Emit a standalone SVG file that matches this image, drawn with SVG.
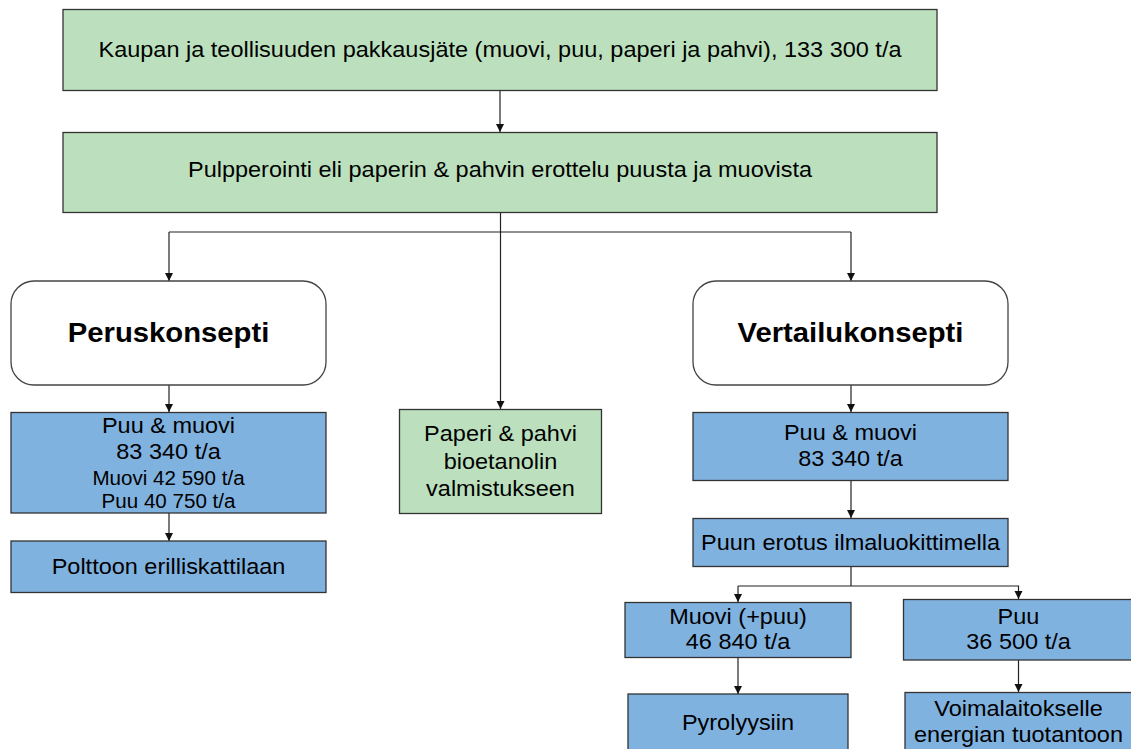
<svg xmlns="http://www.w3.org/2000/svg" width="1131" height="749" viewBox="0 0 1131 749">
  <style>
    .green { fill: #bce0bd; stroke: #333333; stroke-width: 1.3; }
    .blue { fill: #80b2e0; stroke: #333333; stroke-width: 1.3; }
    .concept { fill: #ffffff; stroke: #444444; stroke-width: 1.3; }
    text { font-family: "Liberation Sans", Arial, sans-serif; fill: #000000; text-anchor: middle; }
    .t { font-size: 22px; }
    .s { font-size: 19.5px; }
    .b { font-size: 28px; font-weight: bold; }
    .wire { fill: none; stroke: #222222; stroke-width: 1.2; }
  </style>
  <defs>
    <marker id="arrow" markerUnits="userSpaceOnUse" markerWidth="10" markerHeight="10" refX="8" refY="4" orient="auto">
      <path d="M0,0 L8,4 L0,8 Z" fill="#111111"/>
    </marker>
  </defs>

  <rect width="1131" height="749" fill="#ffffff"/>

  <!-- connectors -->
  <g id="connectors" class="wire">
    <line x1="500" y1="91" x2="500" y2="132" marker-end="url(#arrow)"/>
    <line x1="500.5" y1="212" x2="500.5" y2="409" marker-end="url(#arrow)"/>
    <polyline points="169,232 851,232"/>
    <line x1="169" y1="232" x2="169" y2="281" marker-end="url(#arrow)"/>
    <line x1="851" y1="232" x2="851" y2="281" marker-end="url(#arrow)"/>
    <line x1="169" y1="385" x2="169" y2="412" marker-end="url(#arrow)"/>
    <line x1="169" y1="513" x2="169" y2="541" marker-end="url(#arrow)"/>
    <line x1="851" y1="385" x2="851" y2="412" marker-end="url(#arrow)"/>
    <line x1="851" y1="481" x2="851" y2="518" marker-end="url(#arrow)"/>
    <line x1="851" y1="567" x2="851" y2="586"/>
    <polyline points="738,586 1018.5,586 1018.5,599" marker-end="url(#arrow)"/>
    <line x1="738" y1="586" x2="738" y2="602" marker-end="url(#arrow)"/>
    <line x1="738" y1="657" x2="738" y2="694" marker-end="url(#arrow)"/>
    <line x1="1018.5" y1="660" x2="1018.5" y2="692" marker-end="url(#arrow)"/>
  </g>

  <!-- source waste stream -->
  <g id="node-waste">
    <rect class="green" x="63" y="9.5" width="874" height="81"/>
    <text class="t" transform="translate(500 57) scale(1.068 1)">Kaupan ja teollisuuden pakkausjäte (muovi, puu, paperi ja pahvi), 133 300 t/a</text>
  </g>

  <g id="node-pulping">
    <rect class="green" x="63" y="132.5" width="874" height="80"/>
    <text class="t" transform="translate(500 177) scale(1.068 1)">Pulpperointi eli paperin &amp; pahvin erottelu puusta ja muovista</text>
  </g>

  <g id="node-base-concept">
    <rect class="concept" x="11" y="281" width="315" height="104" rx="23" ry="23"/>
    <text class="b" transform="translate(168.5 342) scale(1.045 1)">Peruskonsepti</text>
  </g>

  <g id="node-comparison-concept">
    <rect class="concept" x="693" y="281" width="315" height="104" rx="23" ry="23"/>
    <text class="b" transform="translate(850.5 342) scale(1.045 1)">Vertailukonsepti</text>
  </g>

  <g id="node-base-wood-plastic">
    <rect class="blue" x="11" y="412.5" width="315" height="100.5"/>
    <text class="t" transform="translate(168.5 433) scale(1.068 1)">Puu &amp; muovi</text>
    <text class="t" transform="translate(168.5 459) scale(1.068 1)">83 340 t/a</text>
    <text class="s" transform="translate(168.5 484.5) scale(1.056 1)">Muovi 42 590 t/a</text>
    <text class="s" transform="translate(168.5 507.5) scale(1.056 1)">Puu 40 750 t/a</text>
  </g>

  <g id="node-base-boiler">
    <rect class="blue" x="11" y="541" width="315" height="51.5"/>
    <text class="t" transform="translate(168.5 573.5) scale(1.068 1)">Polttoon erilliskattilaan</text>
  </g>

  <g id="node-paper">
    <rect class="green" x="399.5" y="409.5" width="202" height="104"/>
    <text class="t" transform="translate(500.5 440.5) scale(1.068 1)">Paperi &amp; pahvi</text>
    <text class="t" transform="translate(500.5 468.5) scale(1.068 1)">bioetanolin</text>
    <text class="t" transform="translate(500.5 496) scale(1.068 1)">valmistukseen</text>
  </g>

  <g id="node-comp-wood-plastic">
    <rect class="blue" x="693" y="412.5" width="315" height="68"/>
    <text class="t" transform="translate(850.5 439.5) scale(1.068 1)">Puu &amp; muovi</text>
    <text class="t" transform="translate(850.5 466) scale(1.068 1)">83 340 t/a</text>
  </g>

  <g id="node-air-classifier">
    <rect class="blue" x="693" y="518.5" width="315" height="48"/>
    <text class="t" transform="translate(850.5 549.5) scale(1.068 1)">Puun erotus ilmaluokittimella</text>
  </g>

  <g id="node-plastic">
    <rect class="blue" x="625" y="602.5" width="226" height="55"/>
    <text class="t" transform="translate(738 623.5) scale(1.068 1)">Muovi (+puu)</text>
    <text class="t" transform="translate(738 649) scale(1.068 1)">46 840 t/a</text>
  </g>

  <g id="node-wood">
    <rect class="blue" x="903.5" y="599.5" width="231" height="60.5"/>
    <text class="t" transform="translate(1018.5 623.5) scale(1.068 1)">Puu</text>
    <text class="t" transform="translate(1018.5 649) scale(1.068 1)">36 500 t/a</text>
  </g>

  <g id="node-pyrolysis">
    <rect class="blue" x="628" y="694" width="220" height="60"/>
    <text class="t" transform="translate(738 730) scale(1.068 1)">Pyrolyysiin</text>
  </g>

  <g id="node-power-plant">
    <rect class="blue" x="905" y="692.5" width="229" height="62"/>
    <text class="t" transform="translate(1018.5 715.5) scale(1.068 1)">Voimalaitokselle</text>
    <text class="t" transform="translate(1018.5 741.5) scale(1.068 1)">energian tuotantoon</text>
  </g>
</svg>
